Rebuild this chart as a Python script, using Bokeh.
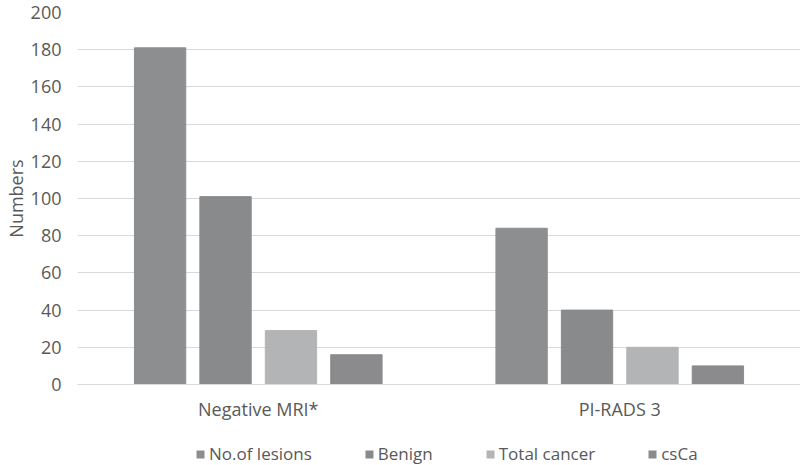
from bokeh.plotting import figure
from bokeh.layouts import column
from bokeh.models import ColumnDataSource, FactorRange, Range1d, FixedTicker, Legend
from bokeh.transform import dodge
from bokeh.embed import file_html
from bokeh.resources import INLINE

categories = ["Negative MRI*", "PI-RADS 3"]
series_names = ["No.of lesions", "Benign", "Total cancer", "csCa"]
no_of_lesions = [181, 84]
benign = [101, 40]
total_cancer = [29, 20]
csca = [16, 10]
y_ticks = [0, 20, 40, 60, 80, 100, 120, 140, 160, 180, 200]

colors = ["#8d8e90", "#898a8c", "#b3b4b6", "#8b8b8d"]
offsets = [-0.2715, -0.0905, 0.0905, 0.2715]
cols = ["lesions", "benign", "total", "csca"]

source = ColumnDataSource(data=dict(x=categories, lesions=no_of_lesions,
                                    benign=benign, total=total_cancer, csca=csca))

p = figure(width=800, height=434, x_range=FactorRange(*categories),
           y_range=Range1d(0, 200), output_backend="svg", toolbar_location=None,
           min_border_left=77, min_border_right=0, min_border_top=12,
           min_border_bottom=50)
p.outline_line_color = None

for c, col, off in zip(cols, colors, offsets):
    p.vbar(x=dodge("x", off, range=p.x_range), top=c, width=0.142, source=source,
           fill_color=col, line_color=col)

FONT = "Open Sans"
LBL = "#595959"

p.yaxis.ticker = FixedTicker(ticks=y_ticks)
p.yaxis.axis_line_color = None
p.yaxis.major_tick_line_color = None
p.yaxis.minor_tick_line_color = None
p.yaxis.major_tick_out = 0
p.yaxis.major_tick_in = 0
p.yaxis.major_label_text_font = FONT
p.yaxis.major_label_text_font_size = "18px"
p.yaxis.major_label_text_color = LBL
p.yaxis.major_label_standoff = 16
p.yaxis.axis_label = "Numbers"
p.yaxis.axis_label_text_font = FONT
p.yaxis.axis_label_text_font_size = "18px"
p.yaxis.axis_label_text_font_style = "normal"
p.yaxis.axis_label_text_color = LBL
p.yaxis.axis_label_standoff = 0

p.xaxis.axis_line_color = "#d9d9d9"
p.xaxis.major_tick_line_color = None
p.xaxis.minor_tick_line_color = None
p.xaxis.major_tick_out = 0
p.xaxis.major_tick_in = 0
p.xaxis.major_label_text_font = FONT
p.xaxis.major_label_text_font_size = "18px"
p.xaxis.major_label_text_color = LBL
p.xaxis.major_label_standoff = 12

p.xgrid.grid_line_color = None
p.ygrid.grid_line_color = "#d9d9d9"
p.ygrid.grid_line_width = 1

# legend strip below the chart (its renderers are hidden, only the legend shows)
pl = figure(width=800, height=31, x_range=FactorRange(*categories),
            y_range=Range1d(0, 200), output_backend="svg", toolbar_location=None,
            x_axis_location=None, y_axis_location=None,
            min_border_left=77, min_border_right=0, min_border_top=0, min_border_bottom=0)
pl.outline_line_color = None
pl.xgrid.visible = False
pl.ygrid.visible = False
items = []
for name, c, col, off in zip(series_names, cols, colors, offsets):
    r = pl.vbar(x=dodge("x", off, range=pl.x_range), top=c, width=0.142, source=source,
                fill_color=col, line_color=None, visible=False)
    items.append((name, [r]))

lg = Legend(items=items, orientation="horizontal", location=(118, 0),
            glyph_width=10, glyph_height=10, label_standoff=4, spacing=52,
            padding=0, margin=0, border_line_color=None, background_fill_alpha=0,
            inactive_fill_alpha=0,
            label_text_font=FONT, label_text_font_size="17px", label_text_color=LBL)
pl.add_layout(lg, "center")

layout = column(p, pl, spacing=0)
open("out.html", "w").write(file_html(layout, INLINE))
